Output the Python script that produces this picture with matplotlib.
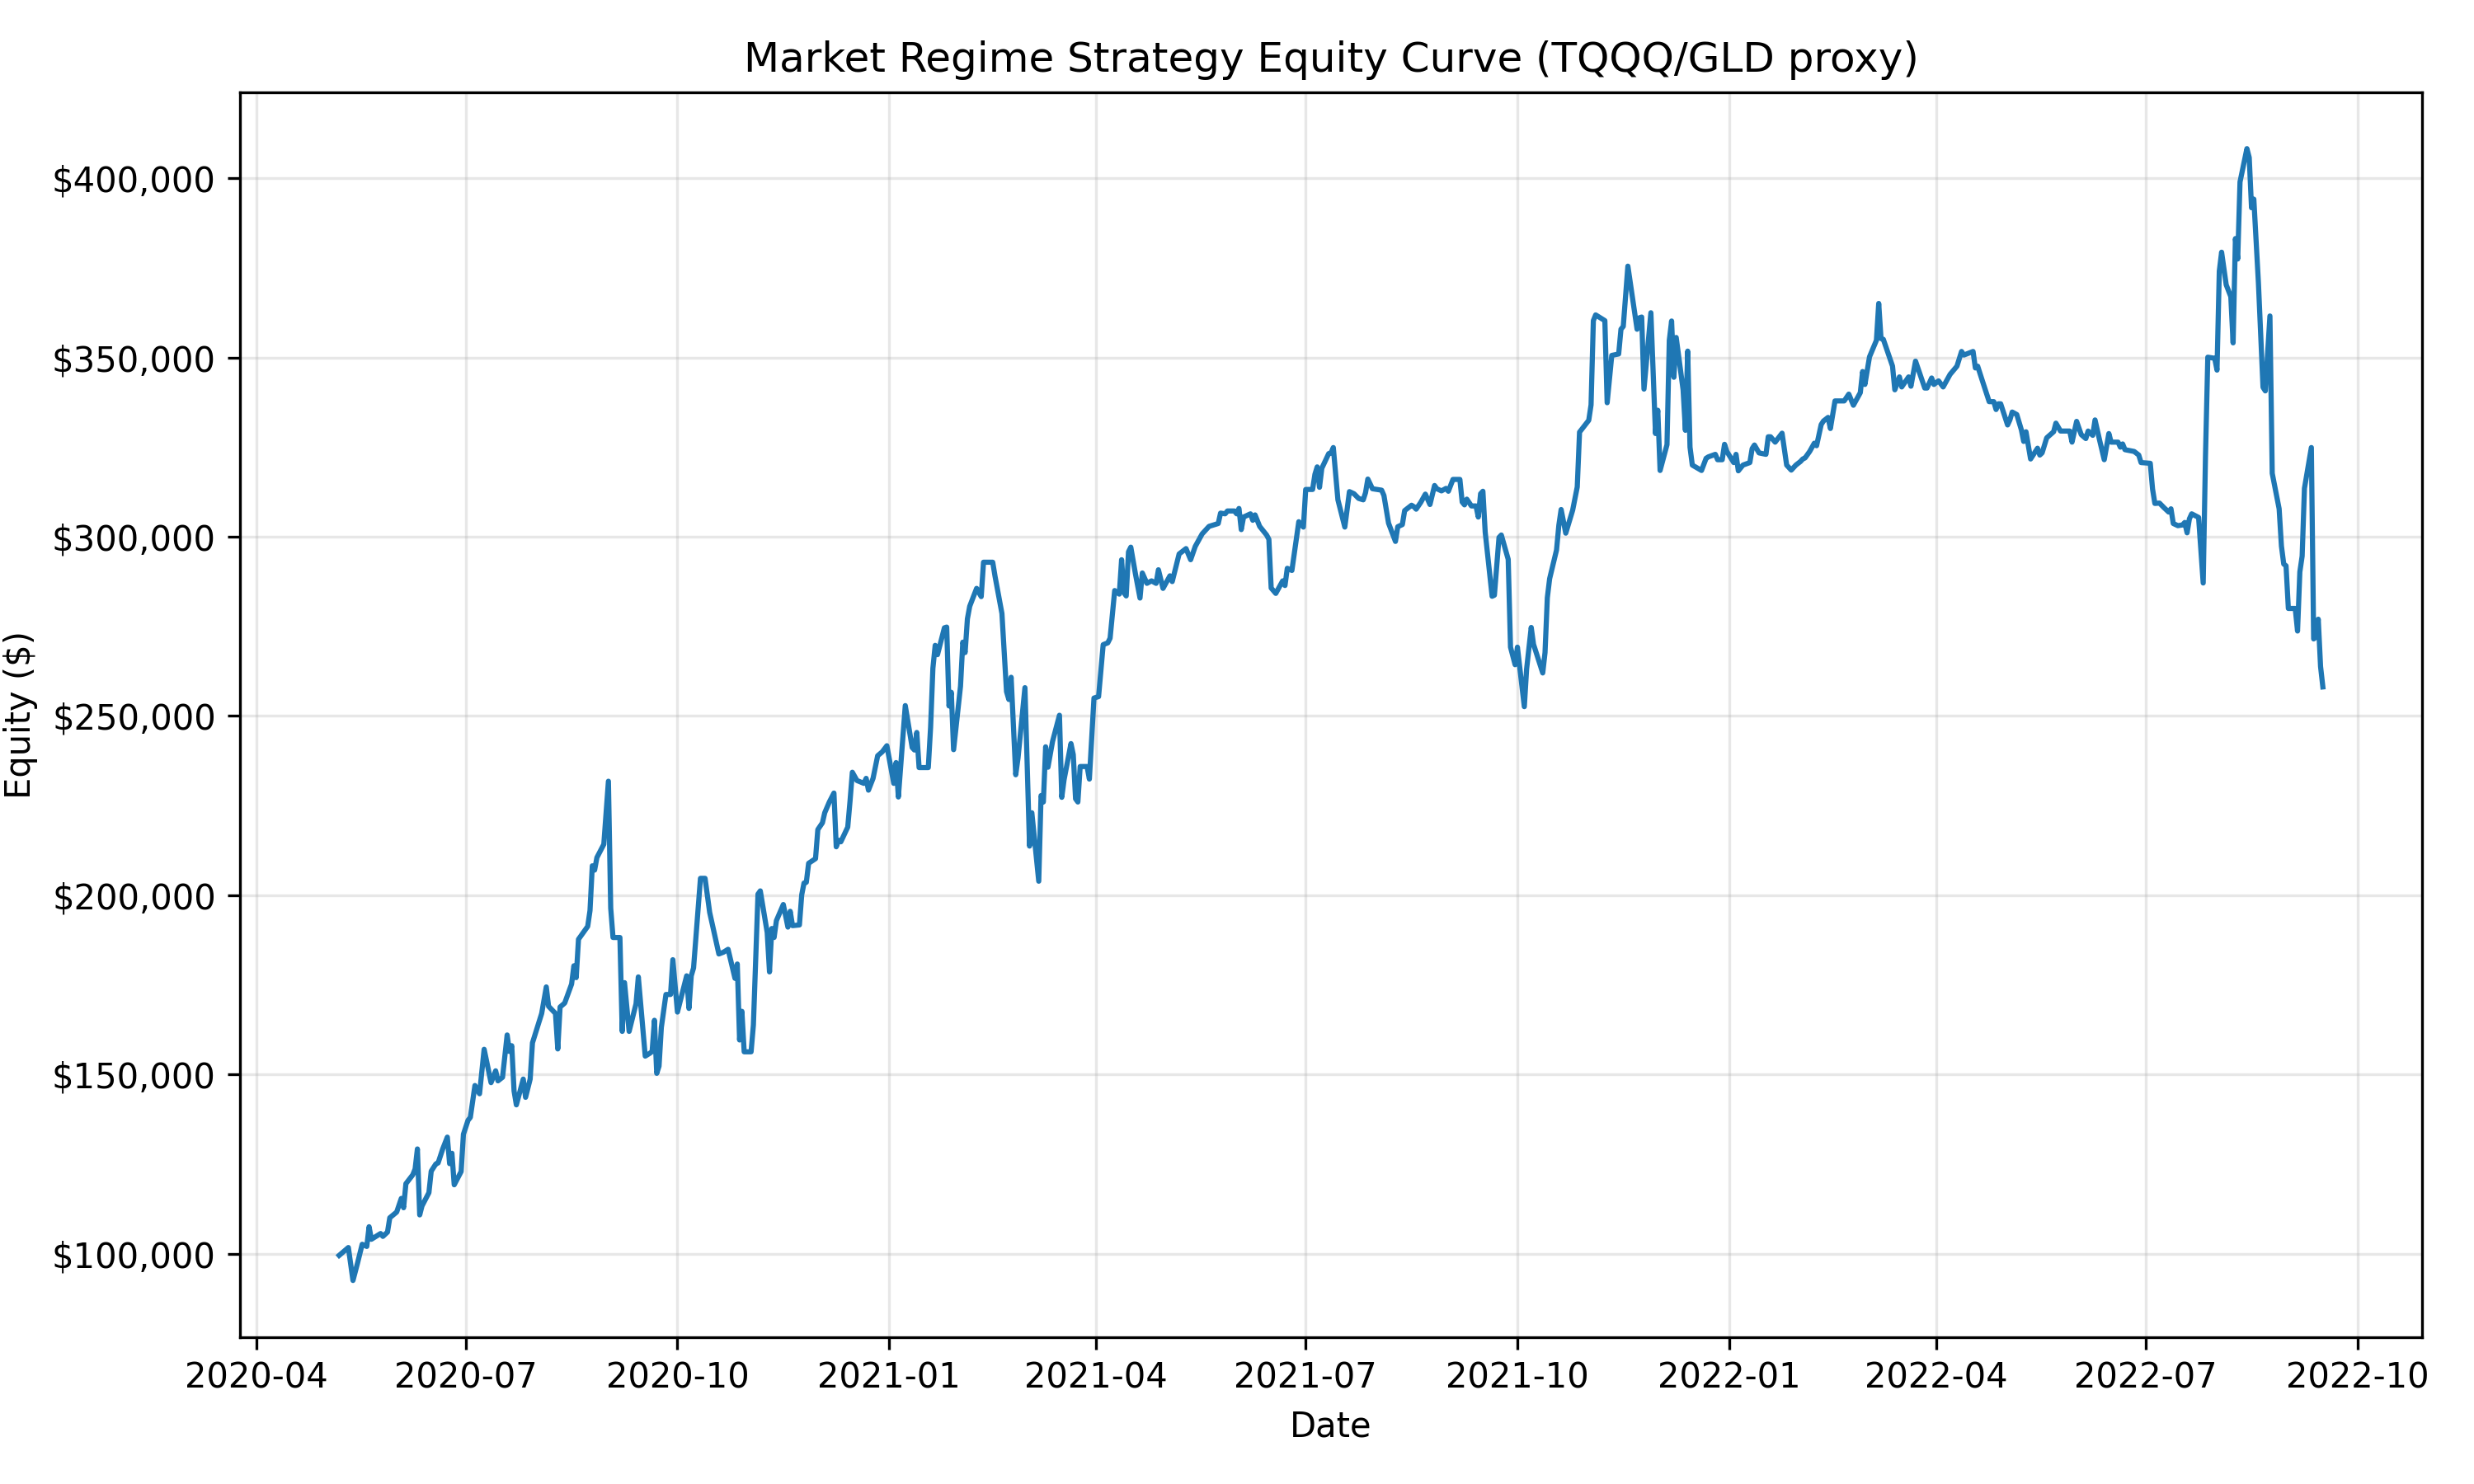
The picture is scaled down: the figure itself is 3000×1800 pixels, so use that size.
import matplotlib
matplotlib.use("Agg")
import matplotlib.pyplot as plt
import matplotlib.dates as mdates
import matplotlib.ticker as mticker
import pandas as pd

# equity values, in thousands of dollars
dates_2020 = [
    "2020-05-07", "2020-05-11", "2020-05-13", "2020-05-15", "2020-05-17", "2020-05-19", "2020-05-20",
    "2020-05-21", "2020-05-25", "2020-05-26", "2020-05-28", "2020-05-29", "2020-06-01", "2020-06-03",
    "2020-06-04", "2020-06-05", "2020-06-08", "2020-06-09", "2020-06-10", "2020-06-11", "2020-06-12",
    "2020-06-15", "2020-06-16", "2020-06-18", "2020-06-19", "2020-06-21", "2020-06-23", "2020-06-24",
    "2020-06-25", "2020-06-26", "2020-06-29", "2020-06-30", "2020-07-02", "2020-07-03", "2020-07-05",
    "2020-07-07", "2020-07-09", "2020-07-12", "2020-07-14", "2020-07-15", "2020-07-17", "2020-07-19",
    "2020-07-20", "2020-07-21", "2020-07-22", "2020-07-23", "2020-07-26", "2020-07-27", "2020-07-29",
    "2020-07-30", "2020-08-03", "2020-08-05", "2020-08-06", "2020-08-09", "2020-08-10", "2020-08-11",
    "2020-08-13", "2020-08-16", "2020-08-17", "2020-08-18", "2020-08-19", "2020-08-23", "2020-08-24",
    "2020-08-25", "2020-08-26", "2020-08-27", "2020-08-30", "2020-09-01", "2020-09-02", "2020-09-03",
    "2020-09-06", "2020-09-07", "2020-09-08", "2020-09-10", "2020-09-13", "2020-09-14", "2020-09-17",
    "2020-09-19", "2020-09-20", "2020-09-21", "2020-09-22", "2020-09-23", "2020-09-24", "2020-09-26",
    "2020-09-28", "2020-09-29", "2020-10-01", "2020-10-05", "2020-10-06", "2020-10-07", "2020-10-08",
    "2020-10-09", "2020-10-11", "2020-10-13", "2020-10-15", "2020-10-19", "2020-10-21", "2020-10-23",
    "2020-10-26", "2020-10-27", "2020-10-28", "2020-10-29", "2020-10-30", "2020-11-02", "2020-11-03",
    "2020-11-05", "2020-11-06", "2020-11-09", "2020-11-10", "2020-11-11", "2020-11-12", "2020-11-13",
    "2020-11-16", "2020-11-18", "2020-11-19", "2020-11-20", "2020-11-23", "2020-11-24", "2020-11-25",
    "2020-11-26", "2020-11-27", "2020-11-30", "2020-12-01", "2020-12-03", "2020-12-04", "2020-12-06",
    "2020-12-08", "2020-12-09", "2020-12-10", "2020-12-11", "2020-12-14", "2020-12-15", "2020-12-16",
    "2020-12-18", "2020-12-21", "2020-12-22", "2020-12-23", "2020-12-25", "2020-12-27", "2020-12-29",
    "2020-12-31",
]
equity_2020 = [
    99.5, 101.7, 92.5, 97.4, 102.6, 102.0, 107.5,
    104.0, 105.6, 104.8, 106.0, 110.0, 111.6, 115.4,
    112.8, 119.5, 122.0, 123.6, 129.2, 110.8, 113.3,
    117.0, 123.0, 125.0, 125.3, 129.2, 132.5, 125.1,
    128.0, 119.2, 122.9, 133.3, 137.2, 138.0, 146.9,
    144.6, 157.0, 147.7, 151.0, 148.2, 149.2, 161.0,
    156.4, 158.0, 145.4, 141.5, 148.7, 143.6, 148.7,
    158.8, 167.0, 174.4, 169.0, 167.0, 157.1, 168.8,
    169.9, 175.2, 180.3, 177.0, 187.7, 191.3, 195.7,
    208.2, 207.0, 210.5, 214.2, 231.8, 196.4, 188.2,
    188.2, 162.0, 175.6, 162.0, 169.7, 177.2, 155.1,
    155.9, 156.4, 165.1, 150.3, 152.3, 163.1, 172.3,
    172.3, 182.0, 167.4, 177.5, 168.4, 177.5, 179.7,
    188.0, 204.7, 204.7, 195.2, 183.6, 184.1, 184.9,
    176.8, 180.8, 159.6, 167.6, 156.3, 156.3, 163.8,
    200.3, 201.2, 189.6, 178.6, 190.7, 188.2, 192.9,
    197.4, 191.1, 195.5, 191.5, 191.7, 200.1, 203.4,
    203.6, 208.9, 210.2, 218.3, 220.2, 223.0, 226.0,
    228.5, 213.5, 215.3, 214.9, 219.0, 226.3, 234.3,
    232.0, 231.2, 232.6, 229.3, 232.6, 238.9, 240.0,
    241.7,
]

dates_2021 = [
    "2021-01-03", "2021-01-04", "2021-01-05", "2021-01-08", "2021-01-11", "2021-01-12", "2021-01-13",
    "2021-01-14", "2021-01-18", "2021-01-19", "2021-01-20", "2021-01-21", "2021-01-22", "2021-01-25",
    "2021-01-26", "2021-01-27", "2021-01-28", "2021-01-29", "2021-02-01", "2021-02-02", "2021-02-03",
    "2021-02-04", "2021-02-05", "2021-02-08", "2021-02-10", "2021-02-11", "2021-02-15", "2021-02-16",
    "2021-02-19", "2021-02-21", "2021-02-22", "2021-02-23", "2021-02-25", "2021-02-26", "2021-03-01",
    "2021-03-02", "2021-03-03", "2021-03-04", "2021-03-07", "2021-03-08", "2021-03-09", "2021-03-10",
    "2021-03-11", "2021-03-13", "2021-03-16", "2021-03-17", "2021-03-18", "2021-03-21", "2021-03-22",
    "2021-03-23", "2021-03-24", "2021-03-25", "2021-03-28", "2021-03-29", "2021-03-31", "2021-04-02",
    "2021-04-04", "2021-04-06", "2021-04-07", "2021-04-09", "2021-04-11", "2021-04-12", "2021-04-13",
    "2021-04-14", "2021-04-15", "2021-04-16", "2021-04-18", "2021-04-20", "2021-04-21", "2021-04-23",
    "2021-04-25", "2021-04-27", "2021-04-28", "2021-04-30", "2021-05-03", "2021-05-04", "2021-05-07",
    "2021-05-10", "2021-05-12", "2021-05-14", "2021-05-17", "2021-05-18", "2021-05-20", "2021-05-24",
    "2021-05-25", "2021-05-27", "2021-05-28", "2021-05-31", "2021-06-01", "2021-06-02", "2021-06-03",
    "2021-06-04", "2021-06-07", "2021-06-08", "2021-06-09", "2021-06-11", "2021-06-14", "2021-06-15",
    "2021-06-16", "2021-06-18", "2021-06-21", "2021-06-22", "2021-06-23", "2021-06-25", "2021-06-28",
    "2021-06-30", "2021-07-01", "2021-07-04", "2021-07-05", "2021-07-06", "2021-07-07", "2021-07-08",
    "2021-07-11", "2021-07-12", "2021-07-13", "2021-07-15", "2021-07-18", "2021-07-20", "2021-07-22",
    "2021-07-24", "2021-07-26", "2021-07-27", "2021-07-28", "2021-07-30", "2021-08-03", "2021-08-04",
    "2021-08-06", "2021-08-09", "2021-08-10", "2021-08-12", "2021-08-13", "2021-08-16", "2021-08-17",
    "2021-08-18", "2021-08-20", "2021-08-22", "2021-08-24", "2021-08-26", "2021-08-27", "2021-08-29",
    "2021-08-31", "2021-09-01", "2021-09-03", "2021-09-06", "2021-09-07", "2021-09-08", "2021-09-09",
    "2021-09-11", "2021-09-13", "2021-09-14", "2021-09-15", "2021-09-16", "2021-09-17", "2021-09-20",
    "2021-09-21", "2021-09-23", "2021-09-24", "2021-09-27", "2021-09-28", "2021-09-30", "2021-10-01",
    "2021-10-04", "2021-10-05", "2021-10-07", "2021-10-08", "2021-10-12", "2021-10-13", "2021-10-14",
    "2021-10-15", "2021-10-18", "2021-10-19", "2021-10-20", "2021-10-22", "2021-10-25", "2021-10-27",
    "2021-10-28", "2021-11-01", "2021-11-02", "2021-11-03", "2021-11-04", "2021-11-08", "2021-11-09",
    "2021-11-11", "2021-11-14", "2021-11-15", "2021-11-16", "2021-11-18", "2021-11-22", "2021-11-23",
    "2021-11-24", "2021-11-25", "2021-11-28", "2021-11-30", "2021-12-01", "2021-12-02", "2021-12-05",
    "2021-12-06", "2021-12-07", "2021-12-08", "2021-12-09", "2021-12-12", "2021-12-13", "2021-12-14",
    "2021-12-15", "2021-12-16", "2021-12-20", "2021-12-22", "2021-12-23", "2021-12-26", "2021-12-27",
    "2021-12-29", "2021-12-30", "2021-12-31",
]
equity_2021 = [
    231.2, 237.0, 227.4, 252.9, 241.2, 240.5, 245.4,
    235.6, 235.6, 246.8, 263.3, 269.7, 267.1, 274.6,
    274.8, 252.8, 256.6, 240.6, 258.3, 270.6, 267.7,
    277.1, 280.6, 285.6, 283.3, 292.9, 292.9, 289.0,
    278.6, 256.8, 254.6, 260.8, 233.6, 238.3, 257.9,
    235.7, 213.7, 223.0, 203.9, 227.8, 226.0, 241.4,
    235.7, 242.9, 250.2, 227.3, 232.2, 242.3, 239.2,
    226.9, 226.0, 235.9, 235.9, 232.4, 255.0, 255.4,
    269.9, 270.4, 271.7, 285.0, 284.0, 293.6, 284.4,
    283.5, 295.8, 297.1, 289.7, 282.9, 289.9, 287.0,
    287.7, 287.0, 290.8, 285.6, 289.1, 287.5, 295.2,
    296.7, 293.6, 297.3, 300.8, 301.5, 302.9, 303.7,
    306.6, 306.4, 307.2, 307.2, 306.4, 307.9, 302.0,
    305.5, 306.4, 304.6, 306.1, 302.9, 300.5, 299.3,
    285.7, 284.2, 287.7, 286.4, 291.2, 290.6, 304.2,
    302.7, 313.2, 313.2, 317.4, 319.5, 313.8, 319.1,
    323.2, 323.4, 324.9, 310.3, 302.7, 312.6, 312.0,
    310.7, 310.3, 312.3, 316.1, 313.4, 313.0, 311.5,
    303.8, 298.7, 302.8, 303.4, 307.3, 308.8, 308.4,
    307.7, 309.6, 311.9, 309.0, 314.3, 313.4, 312.8,
    313.5, 312.7, 316.0, 316.0, 309.7, 308.9, 310.5,
    308.6, 308.6, 305.5, 312.0, 312.7, 301.3, 283.4,
    283.7, 299.8, 300.5, 293.7, 269.2, 264.3, 269.2,
    252.6, 263.1, 274.7, 270.0, 262.0, 267.7, 283.0,
    288.3, 296.3, 303.2, 307.6, 301.0, 307.4, 313.9,
    329.2, 332.5, 336.8, 360.3, 361.9, 360.3, 337.4,
    350.6, 351.0, 357.9, 358.7, 375.5, 357.9, 361.1,
    361.3, 341.2, 362.5, 328.8, 335.3, 318.5, 325.7,
    354.8, 360.2, 344.5, 355.6, 341.0, 329.7, 351.8,
    325.0, 320.0, 318.5, 321.9, 322.3, 323.0, 321.5,
    321.5, 325.8, 323.8,
]

dates_2022 = [
    "2022-01-03", "2022-01-04", "2022-01-05", "2022-01-07", "2022-01-10", "2022-01-11", "2022-01-12",
    "2022-01-14", "2022-01-17", "2022-01-18", "2022-01-19", "2022-01-21", "2022-01-24", "2022-01-26",
    "2022-01-28", "2022-01-30", "2022-02-01", "2022-02-02", "2022-02-03", "2022-02-05", "2022-02-07",
    "2022-02-08", "2022-02-10", "2022-02-11", "2022-02-13", "2022-02-14", "2022-02-16", "2022-02-20",
    "2022-02-22", "2022-02-24", "2022-02-27", "2022-02-28", "2022-03-01", "2022-03-03", "2022-03-06",
    "2022-03-07", "2022-03-08", "2022-03-09", "2022-03-13", "2022-03-14", "2022-03-16", "2022-03-17",
    "2022-03-20", "2022-03-21", "2022-03-23", "2022-03-27", "2022-03-28", "2022-03-30", "2022-03-31",
    "2022-04-02", "2022-04-04", "2022-04-07", "2022-04-10", "2022-04-12", "2022-04-13", "2022-04-17",
    "2022-04-18", "2022-04-19", "2022-04-21", "2022-04-24", "2022-04-26", "2022-04-27", "2022-04-28",
    "2022-04-29", "2022-05-02", "2022-05-03", "2022-05-04", "2022-05-06", "2022-05-08", "2022-05-09",
    "2022-05-10", "2022-05-12", "2022-05-15", "2022-05-16", "2022-05-17", "2022-05-19", "2022-05-22",
    "2022-05-23", "2022-05-25", "2022-05-29", "2022-05-30", "2022-06-01", "2022-06-03", "2022-06-05",
    "2022-06-06", "2022-06-08", "2022-06-09", "2022-06-11", "2022-06-13", "2022-06-15", "2022-06-16",
    "2022-06-19", "2022-06-20", "2022-06-21", "2022-06-22", "2022-06-26", "2022-06-28", "2022-06-29",
    "2022-07-03", "2022-07-04", "2022-07-05", "2022-07-07", "2022-07-09", "2022-07-11", "2022-07-12",
    "2022-07-13", "2022-07-15", "2022-07-17", "2022-07-18", "2022-07-19", "2022-07-20", "2022-07-21",
    "2022-07-24", "2022-07-26", "2022-07-27", "2022-07-28", "2022-07-31", "2022-08-01", "2022-08-02",
    "2022-08-03", "2022-08-05", "2022-08-07", "2022-08-08", "2022-08-09", "2022-08-10", "2022-08-11",
    "2022-08-14", "2022-08-15", "2022-08-16", "2022-08-17", "2022-08-19", "2022-08-21", "2022-08-22",
    "2022-08-24", "2022-08-25", "2022-08-28", "2022-08-29", "2022-08-30", "2022-08-31", "2022-09-01",
    "2022-09-04", "2022-09-05", "2022-09-06", "2022-09-07", "2022-09-08", "2022-09-11", "2022-09-12",
    "2022-09-13", "2022-09-14", "2022-09-15", "2022-09-16",
]
equity_2022 = [
    320.7, 323.0, 318.4, 320.0, 320.7, 324.6, 325.6,
    323.4, 323.0, 327.9, 327.9, 326.4, 328.9, 320.0,
    318.6, 320.0, 321.0, 321.7, 322.0, 323.8, 326.1,
    325.4, 331.3, 332.3, 333.3, 330.2, 337.9, 337.9,
    339.8, 336.7, 340.2, 346.1, 342.5, 350.2, 354.8,
    365.1, 355.3, 355.1, 347.6, 341.0, 344.6, 341.8,
    344.6, 342.0, 349.0, 341.5, 341.5, 344.3, 342.5,
    343.5, 341.8, 345.3, 347.6, 351.7, 350.7, 351.7,
    347.1, 347.6, 343.6, 337.7, 337.7, 335.5, 337.1,
    337.1, 331.2, 332.6, 334.8, 334.1, 329.8, 326.6,
    329.3, 321.7, 324.7, 322.8, 323.4, 327.6, 329.3,
    331.7, 329.5, 329.5, 326.4, 332.2, 328.5, 327.4,
    329.5, 328.3, 332.6, 326.9, 321.5, 328.8, 326.4,
    326.4, 325.0, 325.9, 324.3, 323.8, 322.8, 320.7,
    320.5, 313.3, 309.3, 309.4, 308.1, 306.9, 307.8,
    303.7, 303.1, 303.3, 304.0, 301.1, 305.0, 306.4,
    305.4, 287.1, 322.6, 350.1, 349.8, 346.5, 374.1,
    379.4, 370.3, 367.0, 354.1, 383.2, 377.5, 399.0,
    408.3, 405.8, 391.8, 394.2, 370.8, 341.7, 340.7,
    361.6, 317.7, 307.8, 297.4, 292.4, 291.9, 280.0,
    280.0, 273.7, 290.2, 294.6, 313.5, 324.9, 271.5,
    272.0, 277.0, 263.8, 258.1,
]

dates = pd.to_datetime(dates_2020 + dates_2021 + dates_2022)
equity = [v * 1000 for v in equity_2020 + equity_2021 + equity_2022]

fig, ax = plt.subplots(figsize=(10, 6))
ax.plot(dates, equity, color="#1f77b4", linewidth=1.5)

ax.set_title("Market Regime Strategy Equity Curve (TQQQ/GLD proxy)")
ax.set_xlabel("Date")
ax.set_ylabel("Equity ($)")
ax.xaxis.set_major_locator(mdates.MonthLocator(bymonth=[1, 4, 7, 10]))
ax.xaxis.set_major_formatter(mdates.DateFormatter("%Y-%m"))
ax.yaxis.set_major_formatter(mticker.FuncFormatter(lambda v, p: f"${v:,.0f}"))
ax.grid(True, alpha=0.3)

# axes box placed to match the reference margins
fig.subplots_adjust(left=0.097, right=0.979, top=0.938, bottom=0.099)
plt.savefig("out.png", dpi=300)
